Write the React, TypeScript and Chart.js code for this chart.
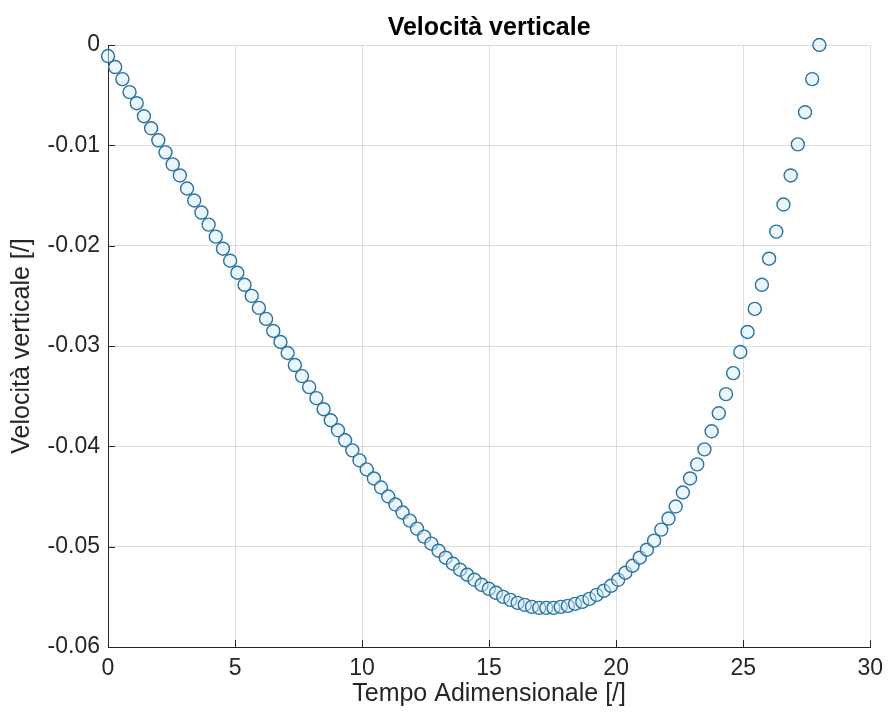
import React, { useEffect, useRef } from "react";
import { Chart, registerables } from "chart.js";

Chart.register(...registerables);

const TITLE = "Velocità verticale";
const X_LABEL = "Tempo Adimensionale [/]";
const Y_LABEL = "Velocità verticale [/]";

const X_TICKS = [0, 5, 10, 15, 20, 25, 30];
const X_TICK_LABELS = ["0", "5", "10", "15", "20", "25", "30"];
const Y_TICKS = [-0.06, -0.05, -0.04, -0.03, -0.02, -0.01, 0];
const Y_TICK_LABELS = ["-0.06", "-0.05", "-0.04", "-0.03", "-0.02", "-0.01", "0"];

const TIME = [
  0, 0.283, 0.566, 0.848, 1.131, 1.414, 1.697, 1.98, 2.263, 2.545,
  2.828, 3.111, 3.394, 3.677, 3.96, 4.242, 4.525, 4.808, 5.091, 5.374,
  5.657, 5.939, 6.222, 6.505, 6.788, 7.071, 7.354, 7.636, 7.919, 8.202,
  8.485, 8.768, 9.051, 9.333, 9.616, 9.899, 10.182, 10.465, 10.747, 11.03,
  11.313, 11.596, 11.879, 12.162, 12.444, 12.727, 13.01, 13.293, 13.576, 13.859,
  14.141, 14.424, 14.707, 14.99, 15.273, 15.556, 15.838, 16.121, 16.404, 16.687,
  16.97, 17.253, 17.535, 17.818, 18.101, 18.384, 18.667, 18.949, 19.232, 19.515,
  19.798, 20.081, 20.364, 20.646, 20.929, 21.212, 21.495, 21.778, 22.061, 22.343,
  22.626, 22.909, 23.192, 23.475, 23.758, 24.04, 24.323, 24.606, 24.889, 25.172,
  25.455, 25.737, 26.02, 26.303, 26.586, 26.869, 27.152, 27.434, 27.717, 28.0,
];

const VELOCITY = [
  -0.0011, -0.0022, -0.0034, -0.0047, -0.0058, -0.0071, -0.0083, -0.0095, -0.0107, -0.0119,
  -0.013, -0.0143, -0.0155, -0.0167, -0.0179, -0.0191, -0.0203, -0.0215, -0.0227, -0.0239,
  -0.025, -0.0262, -0.0273, -0.0285, -0.0296, -0.0307, -0.0319, -0.033, -0.0341, -0.0352,
  -0.0363, -0.0374, -0.0384, -0.0394, -0.0404, -0.0414, -0.0423, -0.0432, -0.0441, -0.045,
  -0.0458, -0.0466, -0.0474, -0.0482, -0.049, -0.0497, -0.0504, -0.0511, -0.0517, -0.0523,
  -0.0528, -0.0533, -0.0538, -0.0542, -0.0546, -0.055, -0.0553, -0.0556, -0.0558, -0.056,
  -0.0561, -0.0561, -0.0561, -0.056, -0.0559, -0.0557, -0.0555, -0.0552, -0.0548, -0.0544,
  -0.0539, -0.0533, -0.0526, -0.0519, -0.0511, -0.0503, -0.0494, -0.0483, -0.0472, -0.046,
  -0.0446, -0.0432, -0.0418, -0.0403, -0.0385, -0.0367, -0.0348, -0.0327, -0.0306, -0.0286,
  -0.0263, -0.0239, -0.0213, -0.0186, -0.0159, -0.013, -0.0099, -0.0067, -0.0034, 0.0,
];

const FONT = '"Liberation Sans", Arial, Helvetica, sans-serif';
const AXIS_COLOR = "#262626";
const GRID_COLOR = "#dcdcdc";
const MARKER_COLOR = "#2b73a3";

const titlePlugin = {
  id: "matlabTitle",
  afterDraw(chart: any) {
    const { ctx, chartArea } = chart;
    ctx.save();
    ctx.font = `bold 25px ${FONT}`;
    ctx.fillStyle = "#000000";
    ctx.textAlign = "center";
    ctx.textBaseline = "alphabetic";
    ctx.fillText(TITLE, (chartArea.left + chartArea.right) / 2, 35);
    ctx.restore();
  },
};

const innerTicksPlugin = {
  id: "innerTicks",
  afterDraw(chart: any) {
    const { ctx, chartArea, scales } = chart;
    const len = 7;
    ctx.save();
    ctx.strokeStyle = AXIS_COLOR;
    ctx.lineWidth = 1;
    ctx.beginPath();
    X_TICKS.forEach((v) => {
      const px = Math.round(scales.x.getPixelForValue(v)) + 0.5;
      ctx.moveTo(px, chartArea.bottom);
      ctx.lineTo(px, chartArea.bottom - len);
    });
    Y_TICKS.forEach((v) => {
      const py = Math.round(scales.y.getPixelForValue(v)) + 0.5;
      ctx.moveTo(chartArea.left, py);
      ctx.lineTo(chartArea.left + len, py);
    });
    ctx.stroke();
    ctx.restore();
  },
};

function labelFor(values: number[], labels: string[], v: number): string {
  const i = values.findIndex((t) => Math.abs(t - v) < 1e-9);
  return i >= 0 ? labels[i] : "";
}

export default function App() {
  const ref = useRef<HTMLCanvasElement | null>(null);

  useEffect(() => {
    if (!ref.current) return;
    const points = TIME.map((t, i) => ({ x: t, y: VELOCITY[i] }));
    const chart = new Chart(ref.current, {
      type: "scatter",
      data: {
        datasets: [
          {
            data: points,
            pointStyle: "circle",
            pointRadius: 6.5,
            pointHoverRadius: 6.5,
            borderWidth: 1.4,
            borderColor: MARKER_COLOR,
            backgroundColor: "rgba(215,240,250,0.5)",
            clip: false as any,
          },
        ],
      },
      options: {
        animation: false,
        responsive: true,
        maintainAspectRatio: false,
        layout: { padding: { top: 45, right: 19, left: 0, bottom: 0 } },
        plugins: {
          legend: { display: false },
          title: { display: false },
          tooltip: { enabled: false },
        },
        scales: {
          x: {
            type: "linear",
            min: 0,
            max: 30,
            afterBuildTicks: (scale: any) => {
              scale.ticks = X_TICKS.map((v) => ({ value: v }));
            },
            afterFit: (scale: any) => {
              scale.height = 80;
            },
            grid: { color: GRID_COLOR, lineWidth: 1, drawTicks: false },
            border: { display: true, color: AXIS_COLOR, width: 1 },
            ticks: {
              color: AXIS_COLOR,
              font: { family: FONT, size: 23 },
              padding: 8,
              maxRotation: 0,
              autoSkip: false,
              callback: (v: any) => labelFor(X_TICKS, X_TICK_LABELS, Number(v)),
            },
            title: {
              display: true,
              text: X_LABEL,
              color: AXIS_COLOR,
              font: { family: FONT, size: 25 },
              padding: { top: 0, bottom: 18 },
            },
          },
          y: {
            type: "linear",
            min: -0.06,
            max: 0,
            afterBuildTicks: (scale: any) => {
              scale.ticks = Y_TICKS.map((v) => ({ value: v }));
            },
            afterFit: (scale: any) => {
              scale.width = 108;
            },
            grid: { color: GRID_COLOR, lineWidth: 1, drawTicks: false },
            border: { display: true, color: AXIS_COLOR, width: 1 },
            ticks: {
              color: AXIS_COLOR,
              font: { family: FONT, size: 23 },
              padding: 8,
              autoSkip: false,
              callback: (v: any) => labelFor(Y_TICKS, Y_TICK_LABELS, Number(v)),
            },
            title: {
              display: true,
              text: Y_LABEL,
              color: AXIS_COLOR,
              font: { family: FONT, size: 25 },
              padding: { top: 7, bottom: 0 },
            },
          },
        },
      },
      plugins: [titlePlugin, innerTicksPlugin],
    });
    return () => chart.destroy();
  }, []);

  return (
    <div
      style={{
        position: "fixed",
        left: 0,
        top: 0,
        width: 891,
        height: 727,
        background: "#ffffff",
      }}
    >
      <canvas ref={ref} />
    </div>
  );
}
